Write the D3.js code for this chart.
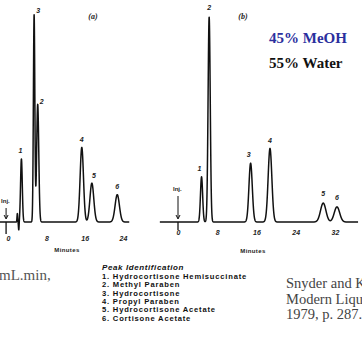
<!DOCTYPE html>
<html><head><meta charset="utf-8">
<script src="https://cdn.jsdelivr.net/npm/d3@7"></script>
<style>
html,body{margin:0;padding:0;background:#fff;overflow:hidden}
svg{display:block}
</style></head>
<body>
<script>
// ---- data ----
// chromatogram (a): retention time (min), apex height (rel. units), width sigma (min)
const peakLabelsA = ["1","3","2","4","5","6"];
const peakTimesA  = [2.8, 5.45, 6.2, 15.4, 17.5, 22.8];
const peakHeightsA= [30, 98.5, 56, 35.5, 18.5, 13];
const peakSigmaA  = [0.18, 0.15, 0.22, 0.35, 0.4, 0.45];
// solvent-front disturbance in (a)
const distTimesA  = [1.95, 2.25];
const distHeightsA= [4, -4];
const distSigmaA  = [0.07, 0.07];
const rangeA = [-1.7, 25.3];
const ticksA = [0, 8, 16, 24];

// chromatogram (b)
const peakLabelsB = ["1","2","3","4","5","6"];
const peakTimesB  = [4.8, 6.35, 14.8, 18.75, 29.6, 32.4];
const peakHeightsB= [21.5, 97.5, 28, 35, 9, 7.2];
const peakSigmaB  = [0.22, 0.22, 0.34, 0.38, 0.55, 0.55];
const rangeB = [-3.7, 36.7];
const ticksB = [0, 8, 16, 24, 32];

const peakNames = [
  "1. Hydrocortisone Hemisuccinate",
  "2. Methyl Paraben",
  "3. Hydrocortisone",
  "4. Propyl Paraben",
  "5. Hydrocortisone Acetate",
  "6. Cortisone Acetate"
];
const solvent = ["45% MeOH", "55% Water"];
const citation = ["Snyder  and Kirkland,", "Modern Liquid Chromatography,", "1979, p. 287."];

// ---- drawing ----
const W = 362, H = 362;
const svg = d3.select("body").append("svg").attr("width", W).attr("height", H);

function trace(times, heights, sigmas, extraT, extraH, extraS, range, step){
  const pts = [];
  for (let t = range[0]; t <= range[1] + 1e-9; t += step){
    let v = 0;
    times.forEach((c,i)=>{ v += heights[i]*Math.exp(-0.5*((t-c)/sigmas[i])**2); });
    extraT.forEach((c,i)=>{ v += extraH[i]*Math.exp(-0.5*((t-c)/extraS[i])**2); });
    pts.push([t, v]);
  }
  return pts;
}

function panel(cfg){
  const x = d3.scaleLinear().domain(cfg.domain).range(cfg.xr);
  const y = d3.scaleLinear().domain([0, 100]).range([cfg.base, cfg.base - 210]);
  const g = svg.append("g");
  const data = trace(cfg.times, cfg.heights, cfg.sigmas, cfg.dT||[], cfg.dH||[], cfg.dS||[], cfg.range, 0.01);
  g.append("path").datum(data)
    .attr("d", d3.line().x(d=>x(d[0])).y(d=>y(d[1])))
    .attr("fill","none").attr("stroke","#111").attr("stroke-width",1.5)
    .attr("stroke-linejoin","round");
  // peak labels
  g.selectAll("text.pl").data(cfg.labels).join("text")
    .attr("x",(d,i)=>x(cfg.times[i]) + cfg.lblDx[i])
    .attr("y",(d,i)=>y(cfg.heights[i]) - 4 + cfg.lblDy[i])
    .attr("text-anchor","middle")
    .attr("font-family","Liberation Sans, Arial, sans-serif")
    .attr("font-size",7).attr("font-weight","bold").attr("font-style","italic")
    .attr("fill","#222").text(d=>d);
  // axis
  const ax = d3.axisBottom(x).tickValues(cfg.ticks).tickSize(0).tickPadding(0).tickFormat(d3.format("d"));
  const ag = g.append("g").attr("transform",`translate(0,${cfg.tickY})`).call(ax);
  ag.select(".domain").remove();
  ag.selectAll("text").attr("font-family","Liberation Sans, Arial, sans-serif")
    .attr("font-size",7).attr("font-weight","bold").attr("font-style","italic").attr("fill","#222");
  g.append("text").attr("x",cfg.minX).attr("y",cfg.minY).attr("text-anchor","middle")
    .attr("font-family","Liberation Sans, Arial, sans-serif").attr("font-size",6)
    .attr("font-weight","bold").attr("letter-spacing",0.4).attr("fill","#222").text("Minutes");
  // injection marker
  const xi = x(cfg.injT);
  g.append("text").attr("x",xi - 5).attr("y",cfg.injY).attr("font-family","Liberation Sans, Arial, sans-serif")
    .attr("font-size",6).attr("font-weight","bold").attr("fill","#222").text("Inj.");
  g.append("line").attr("x1",xi).attr("x2",xi).attr("y1",cfg.injY+5).attr("y2",cfg.base-4)
    .attr("stroke","#111").attr("stroke-width",1);
  g.append("path").attr("d",`M${xi-2},${cfg.base-7}L${xi},${cfg.base-3}L${xi+2},${cfg.base-7}`)
    .attr("fill","none").attr("stroke","#111").attr("stroke-width",1);
  g.append("line").attr("x1",xi).attr("x2",xi).attr("y1",cfg.base).attr("y2",cfg.base+cfg.tickLen)
    .attr("stroke","#111").attr("stroke-width",1.3);
  g.append("text").attr("x",cfg.tagX).attr("y",19).attr("text-anchor","middle")
    .attr("font-family","Liberation Serif, Times New Roman, serif").attr("font-size",8)
    .attr("font-weight","bold").attr("font-style","italic").attr("fill","#222").text(cfg.tag);
}

panel({domain:[0,24], xr:[8,123], base:222, times:peakTimesA, heights:peakHeightsA, sigmas:peakSigmaA,
  dT:distTimesA, dH:distHeightsA, dS:distSigmaA, range:rangeA, labels:peakLabelsA,
  lblDx:[-1,4,4,0,2,0], lblDy:[-2,2,4,-1,-1,-2], ticks:ticksA, tickY:236, minX:67, minY:252,
  injT:-0.4, injY:203, tickLen:12, tag:"(a)", tagX:93});
panel({domain:[0,32], xr:[178,335], base:222, times:peakTimesB, heights:peakHeightsB, sigmas:peakSigmaB,
  range:rangeB, labels:peakLabelsB,
  lblDx:[-2,0,-2,0,0,0], lblDy:[-2,-3,-2,-2,-3,-3], ticks:ticksB, tickY:230, minX:253, minY:253,
  injT:0, injY:191, tickLen:8, tag:"(b)", tagX:243});

// solvent text
svg.append("text").attr("x",269).attr("y",43).attr("font-family","Liberation Serif, Times New Roman, serif")
  .attr("font-size",15).attr("font-weight","bold").attr("fill","#2b2f9e").text(solvent[0]);
svg.append("text").attr("x",269).attr("y",68).attr("font-family","Liberation Serif, Times New Roman, serif")
  .attr("font-size",15).attr("font-weight","bold").attr("fill","#111").text(solvent[1]);

// flow text (cropped)
svg.append("text").attr("x",-1).attr("y",280).attr("font-family","Liberation Serif, Times New Roman, serif")
  .attr("font-size",15).attr("fill","#555").text("mL.min,");

// peak identification
const pid = svg.append("g").attr("font-family","Liberation Sans, Arial, sans-serif").attr("fill","#111");
pid.append("text").attr("x",102).attr("y",270).attr("font-size",8).attr("font-weight","bold")
  .attr("font-style","italic").attr("letter-spacing",0.6).text("Peak Identification");
pid.selectAll("text.n").data(peakNames).join("text").attr("class","n")
  .attr("x",102).attr("y",(d,i)=>279 + i*8.3).attr("font-size",7.6).attr("font-weight","bold")
  .attr("letter-spacing",0.8).text(d=>d);

// citation
svg.selectAll("text.c").data(citation).join("text").attr("class","c")
  .attr("x",286).attr("y",(d,i)=>288 + i*15.5).attr("font-family","Liberation Serif, Times New Roman, serif")
  .attr("font-size",14.5).attr("fill","#444").text(d=>d);
</script>
</body></html>
